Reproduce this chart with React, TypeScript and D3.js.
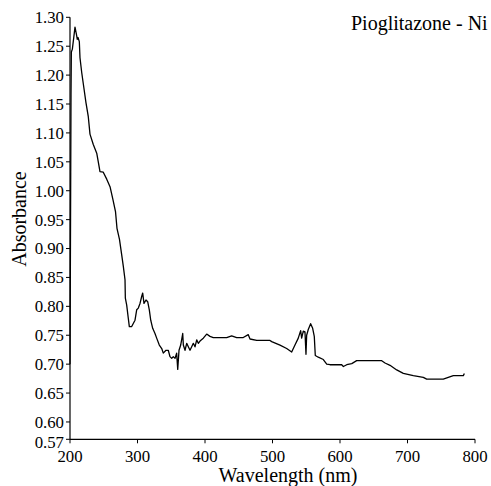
import React from "react";
import * as d3 from "d3";

const wavelength = [
  200, 201.5, 202, 203.5, 207.4, 209.6, 210.8, 211.9, 213.8, 214.8, 217.3, 219.7, 223.7, 227.1, 229.6,
  234.5, 239.6, 241.9, 244.4, 249.3, 254.4, 259.3, 263.7, 267.4, 269.6, 273.3, 276.6, 279, 281.5, 282,
  284, 286.4, 287.9, 291.4, 296.3, 298.8, 301.2, 303.7, 306.2, 307.7, 309.6, 312.6, 315.1, 317.5, 319.6,
  322.5, 325.9, 328.4, 332.3, 335.9, 338.2, 342.2, 345.6, 348.1, 350.7, 353, 355.6, 358, 359.6, 361.5,
  364, 367, 367.9, 370.4, 372.9, 375.3, 377.8, 380.3, 382.7, 385.2, 387.7, 390.1, 392.6, 397.5, 402.5,
  407.4, 412.3, 422.2, 432.1, 439.5, 446.9, 456.7, 464.1, 466.7, 476.6, 496.3, 498.8, 511.1, 521, 528.4,
  533.3, 538.2, 541.7, 543.2, 545.6, 548.1, 549.6, 550.6, 553, 556.5, 559.5, 561.9, 563.4, 567.8, 575.3,
  580.3, 585.2, 602.5, 605, 610, 617.4, 624.7, 661.8, 666.7, 674.1, 684, 693.8, 708.6, 723.4, 728.4,
  753, 760.4, 767.9, 782.7, 784.2,
];
const absorbance = [
  0.70, 1.166, 1.24, 1.245, 1.283, 1.27, 1.262, 1.265, 1.258, 1.23, 1.205, 1.185, 1.152, 1.128, 1.098,
  1.08, 1.065, 1.05, 1.033, 1.032, 1.02, 1.007, 0.984, 0.964, 0.935, 0.916, 0.889, 0.869, 0.846, 0.814,
  0.802, 0.779, 0.765, 0.765, 0.776, 0.794, 0.797, 0.805, 0.817, 0.823, 0.805, 0.811, 0.808, 0.794, 0.776,
  0.762, 0.753, 0.745, 0.733, 0.727, 0.719, 0.724, 0.724, 0.713, 0.71, 0.713, 0.71, 0.719, 0.691, 0.724,
  0.733, 0.753, 0.733, 0.724, 0.736, 0.73, 0.724, 0.73, 0.736, 0.73, 0.742, 0.736, 0.74, 0.745, 0.752,
  0.748, 0.746, 0.746, 0.746, 0.749, 0.746, 0.746, 0.751, 0.7435, 0.741, 0.741, 0.739, 0.733, 0.727, 0.721,
  0.733, 0.745, 0.758, 0.745, 0.757, 0.756, 0.717, 0.75, 0.76, 0.77, 0.762, 0.748, 0.715, 0.712, 0.708,
  0.7, 0.699, 0.699, 0.696, 0.699, 0.701, 0.706, 0.706, 0.702, 0.698, 0.69, 0.684, 0.68, 0.677, 0.674,
  0.674, 0.677, 0.68, 0.68, 0.684,
];
const xTicks = [200, 300, 400, 500, 600, 700, 800];
const yTicks = [0.57, 0.6, 0.65, 0.7, 0.75, 0.8, 0.85, 0.9, 0.95, 1.0, 1.05, 1.1, 1.15, 1.2, 1.25, 1.3];
const title = "Pioglitazone - Ni";
const xLabel = "Wavelength (nm)";
const yLabel = "Absorbance";

export default function App() {
  const W = 491, H = 486;
  const x = d3.scaleLinear().domain([200, 800]).range([70, 475]);
  const y = d3.scaleLinear().domain([0.57, 1.3]).range([439.3, 17.3]);
  const pts: [number, number][] = wavelength.map((w, i) => [w, absorbance[i]]);
  const line = d3.line<[number, number]>().x(d => x(d[0])).y(d => y(d[1]));
  const font = "'Liberation Serif', 'Times New Roman', serif";
  return (
    <svg width={W} height={H} style={{ position: "absolute", left: 0, top: 0, background: "#fff" }}
      fontFamily={font}>
      <rect x={0} y={0} width={W} height={H} fill="#fff" />
      {/* axes */}
      <line x1={x(200)} x2={x(200)} y1={y(1.3)} y2={y(0.57)} stroke="#000" strokeWidth={1.2} />
      <line x1={x(200)} x2={x(800)} y1={y(0.57)} y2={y(0.57)} stroke="#000" strokeWidth={1.2} />
      {yTicks.map(t => (
        <g key={t}>
          <line x1={x(200) - 4} x2={x(200)} y1={y(t)} y2={y(t)} stroke="#000" strokeWidth={1} />
          <text x={64} y={y(t) + (t === 0.57 ? 3 : 0)} dy="0.35em" textAnchor="end" fontSize={16.8} fill="#000">
            {t.toFixed(2)}
          </text>
        </g>
      ))}
      {xTicks.map(t => (
        <g key={t}>
          <line x1={x(t)} x2={x(t)} y1={y(0.57)} y2={y(0.57) + 4} stroke="#000" strokeWidth={1} />
          <text x={x(t)} y={461.5} textAnchor="middle" fontSize={16.8} fill="#000">{t}</text>
        </g>
      ))}
      <path d={line(pts) || ""} fill="none" stroke="#000" strokeWidth={1.3} strokeLinejoin="round" />
      <text x={288} y={482} textAnchor="middle" fontSize={20} fill="#000">{xLabel}</text>
      <text transform={`translate(26,219) rotate(-90)`} textAnchor="middle" fontSize={20} fill="#000">{yLabel}</text>
      <text x={351} y={29.5} fontSize={20} fill="#000">{title}</text>
    </svg>
  );
}
